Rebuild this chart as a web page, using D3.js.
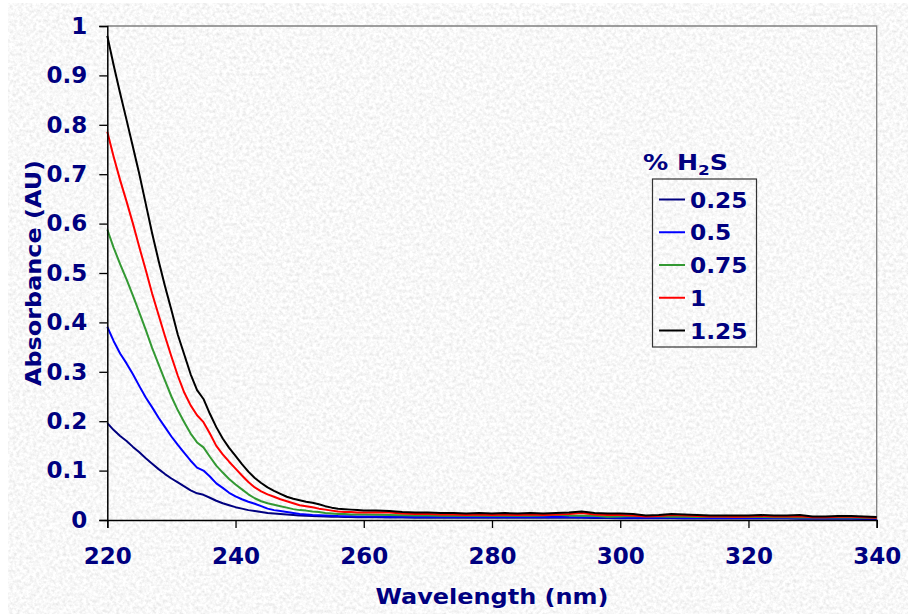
<!DOCTYPE html>
<html>
<head>
<meta charset="utf-8">
<script src="https://cdn.jsdelivr.net/npm/d3@7"></script>
<style>
  html, body { margin: 0; padding: 0; background: #ffffff; }
  svg { display: block; }
  text { font-family: "DejaVu Sans", Verdana, sans-serif; font-weight: bold; fill: #000080; }
</style>
</head>
<body>
<svg id="chart" width="914" height="614"></svg>
<script>
// ---------- DATA ----------
const steepWavelengths = d3.range(220, 261, 1);   // 220..260 nm
const tailWavelengths = d3.range(262, 341, 2);    // 262..340 nm
const wavelengths = steepWavelengths.concat(tailWavelengths);

const seriesNames = ["0.25", "0.5", "0.75", "1", "1.25"];
const seriesColors = ["#000080", "#0000ff", "#339933", "#ff0000", "#000000"];

const abs025 = [
  0.196,0.182,0.170,0.160,0.148,0.137,0.125,0.114,0.103,0.093,
  0.084,0.076,0.068,0.060,0.054,0.051,0.045,0.039,0.034,0.030,
  0.026,0.023,0.020,0.018,0.016,0.014,0.013,0.012,0.011,0.010,
  0.009,0.0085,0.008,0.0075,0.007,0.0068,0.0065,0.006,0.006,0.0058,0.0055,
  0.0055,0.005,0.005,0.0048,0.0048,0.0045,0.0045,0.0045,0.0045,0.0045,
  0.0045,0.0045,0.0045,0.0048,0.005,0.0045,0.0045,0.0042,0.004,0.0035,
  0.0035,0.0038,0.0035,0.0035,0.003,0.003,0.003,0.0032,0.003,0.003,
  0.003,0.003,0.0028,0.0025,0.0025,0.0025,0.0025,0.0025,0.0022,0.002
];
const abs050 = [
  0.391,0.362,0.337,0.317,0.295,0.271,0.248,0.228,0.207,0.188,
  0.169,0.152,0.136,0.120,0.106,0.100,0.088,0.074,0.065,0.055,
  0.048,0.042,0.037,0.033,0.028,0.023,0.020,0.018,0.016,0.014,
  0.012,0.011,0.010,0.0095,0.009,0.0085,0.008,0.0078,0.0075,0.0072,0.007,
  0.007,0.0068,0.0065,0.0062,0.006,0.006,0.006,0.006,0.006,0.006,
  0.006,0.006,0.006,0.0062,0.0068,0.006,0.0058,0.0055,0.005,0.0045,
  0.0045,0.005,0.0048,0.0045,0.0042,0.004,0.004,0.0042,0.004,0.004,
  0.004,0.004,0.0038,0.0035,0.0035,0.0035,0.0035,0.0035,0.003,0.003
];
const abs075 = [
  0.588,0.551,0.518,0.487,0.454,0.420,0.385,0.348,0.315,0.282,
  0.250,0.222,0.198,0.175,0.157,0.147,0.128,0.110,0.096,0.083,
  0.072,0.062,0.052,0.044,0.038,0.034,0.031,0.028,0.025,0.022,
  0.020,0.019,0.017,0.016,0.014,0.013,0.012,0.012,0.011,0.011,0.011,
  0.0105,0.010,0.0095,0.009,0.009,0.0088,0.0088,0.0088,0.0088,0.0088,
  0.0088,0.0088,0.0088,0.009,0.0105,0.009,0.0088,0.0085,0.0065,0.007,
  0.008,0.0075,0.007,0.0065,0.0065,0.0062,0.0065,0.0068,0.0062,0.0065,
  0.006,0.0055,0.0058,0.005,0.005,0.0052,0.005,0.005,0.0048,0.0045
];
const abs100 = [
  0.786,0.735,0.688,0.645,0.600,0.552,0.506,0.458,0.415,0.372,
  0.331,0.292,0.258,0.232,0.212,0.198,0.175,0.150,0.133,0.118,
  0.104,0.090,0.077,0.066,0.058,0.052,0.047,0.042,0.038,0.034,
  0.030,0.028,0.026,0.023,0.021,0.019,0.017,0.016,0.016,0.015,0.015,
  0.0155,0.015,0.013,0.012,0.012,0.011,0.011,0.010,0.011,0.010,
  0.011,0.010,0.011,0.010,0.011,0.012,0.014,0.011,0.010,0.010,
  0.009,0.007,0.008,0.010,0.009,0.008,0.007,0.007,0.0068,0.007,
  0.008,0.007,0.007,0.0075,0.0055,0.0055,0.0065,0.0065,0.0055,0.0045
];
const abs125 = [
  0.980,0.920,0.864,0.810,0.755,0.700,0.640,0.580,0.525,0.473,
  0.425,0.375,0.335,0.295,0.263,0.245,0.215,0.188,0.165,0.146,
  0.130,0.113,0.098,0.085,0.075,0.066,0.059,0.053,0.047,0.043,
  0.040,0.037,0.035,0.032,0.028,0.025,0.023,0.022,0.021,0.020,0.019,
  0.019,0.018,0.016,0.015,0.015,0.014,0.014,0.013,0.014,0.013,
  0.014,0.013,0.014,0.013,0.014,0.015,0.017,0.014,0.013,0.013,
  0.012,0.009,0.010,0.012,0.011,0.010,0.009,0.009,0.009,0.009,
  0.010,0.009,0.009,0.010,0.007,0.007,0.008,0.008,0.007,0.006
];
const seriesValues = [abs025, abs050, abs075, abs100, abs125];

const xTicks = [220, 240, 260, 280, 300, 320, 340];
const yTicks = [0, 0.1, 0.2, 0.3, 0.4, 0.5, 0.6, 0.7, 0.8, 0.9, 1];

// ---------- LAYOUT ----------
const svg = d3.select("#chart");
const plot = { left: 107.3, right: 876.7, top: 26, bottom: 520 };

const x = d3.scaleLinear().domain([220, 340]).range([plot.left, plot.right]);
const y = d3.scaleLinear().domain([0, 1]).range([plot.bottom, plot.top]);

// textured background
const defs = svg.append("defs");
const filt = defs.append("filter").attr("id", "tex")
  .attr("x", 0).attr("y", 0).attr("width", "100%").attr("height", "100%");
filt.append("feTurbulence").attr("type", "fractalNoise")
  .attr("baseFrequency", 0.3).attr("numOctaves", 3).attr("seed", 7).attr("result", "n");
filt.append("feColorMatrix").attr("type", "matrix").attr("in", "n")
  .attr("values", "0.4 0 0 0 0.74  0.4 0 0 0 0.74  0.4 0 0 0 0.74  0 0 0 0 1");

svg.append("rect").attr("x", 8).attr("y", 3).attr("width", 900).attr("height", 611)
  .attr("fill", "#eeeeee").attr("filter", "url(#tex)");

// plot frame (top and right, gray)
svg.append("path")
  .attr("d", `M${plot.left},${plot.top}H${plot.right}V${plot.bottom}`)
  .attr("fill", "none").attr("stroke", "#808080").attr("stroke-width", 1.3);

// series lines
const line = d3.line()
  .x((d, i) => x(wavelengths[i]))
  .y(d => y(d));

seriesValues.forEach((vals, k) => {
  svg.append("path")
    .datum(vals)
    .attr("d", line)
    .attr("fill", "none")
    .attr("stroke", seriesColors[k])
    .attr("stroke-width", 2)
    .attr("stroke-linejoin", "round");
});

// axes
const xAxis = d3.axisBottom(x).tickValues(xTicks).tickSize(8).tickPadding(20)
  .tickFormat(d3.format("d"));
const gx = svg.append("g").attr("transform", `translate(0,${plot.bottom})`).call(xAxis);
gx.select(".domain").attr("stroke", "#000").attr("stroke-width", 1.5);
gx.selectAll(".tick line").attr("stroke", "#000").attr("stroke-width", 1.3);
gx.selectAll(".tick text").attr("font-size", 23).attr("fill", "#000080")
  .attr("font-family", "DejaVu Sans").attr("font-weight", "bold");

const yAxis = d3.axisLeft(y).tickValues(yTicks).tickSize(8).tickPadding(12)
  .tickFormat(d => d3.format("")(+d.toFixed(1)));
const gy = svg.append("g").attr("transform", `translate(${plot.left},0)`).call(yAxis);
gy.select(".domain").attr("stroke", "#000").attr("stroke-width", 1.5);
gy.selectAll(".tick line").attr("stroke", "#000").attr("stroke-width", 1.3);
gy.selectAll(".tick text").attr("font-size", 23).attr("fill", "#000080")
  .attr("font-family", "DejaVu Sans").attr("font-weight", "bold");

// axis titles
svg.append("text").attr("x", (plot.left + plot.right) / 2).attr("y", 604)
  .attr("text-anchor", "middle").attr("font-size", 22)
  .attr("textLength", 233).attr("lengthAdjust", "spacingAndGlyphs")
  .text("Wavelength (nm)");
svg.append("text")
  .attr("transform", `translate(41,${(plot.top + plot.bottom) / 2}) rotate(-90)`)
  .attr("text-anchor", "middle").attr("font-size", 22)
  .attr("textLength", 226).attr("lengthAdjust", "spacingAndGlyphs")
  .text("Absorbance (AU)");

// legend
const lg = svg.append("g");
const ttl = lg.append("g").attr("transform", "translate(643,170) scale(1.2,1)");
const ttlText = ttl.append("text").attr("x", 0).attr("y", 0).attr("font-size", 21);
ttlText.append("tspan").text("% H");
ttlText.append("tspan").attr("font-size", 14).attr("dy", 5).text("2");
ttlText.append("tspan").attr("dy", -5).text("S");

lg.append("rect").attr("x", 652.5).attr("y", 179).attr("width", 104).attr("height", 168)
  .attr("fill", "none").attr("stroke", "#333").attr("stroke-width", 1.2);

const legendRowY = d3.scalePoint().domain(seriesNames).range([199.5, 330.5]);
seriesNames.forEach((name, k) => {
  const yy = legendRowY(name);
  lg.append("line").attr("x1", 659).attr("x2", 685).attr("y1", yy).attr("y2", yy)
    .attr("stroke", seriesColors[k]).attr("stroke-width", 2);
  lg.append("g").attr("transform", `translate(690,${yy + 8}) scale(1.06,1)`)
    .append("text").attr("x", 0).attr("y", 0).attr("font-size", 22).text(name);
});
</script>
</body>
</html>
